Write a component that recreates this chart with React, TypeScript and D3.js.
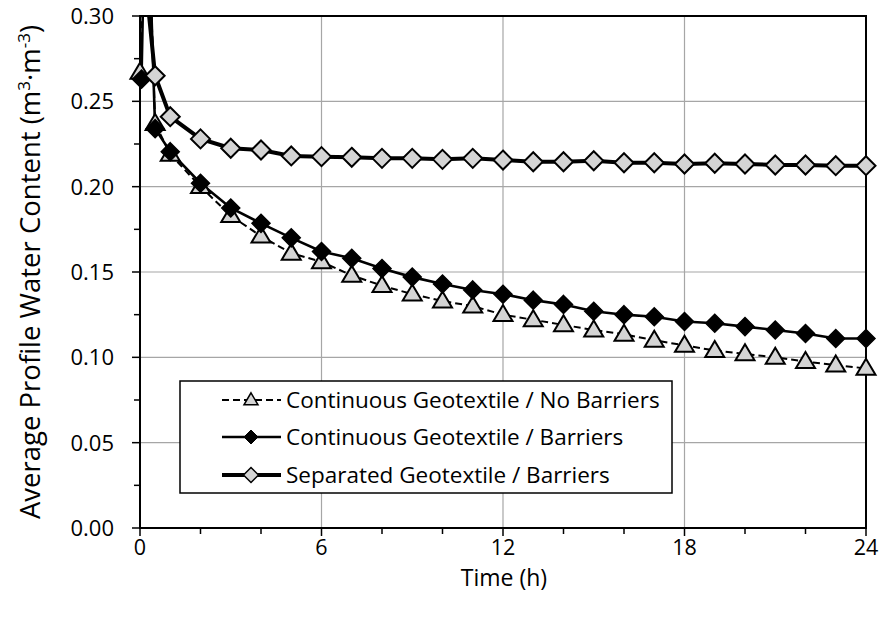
import React from "react";
import * as d3 from "d3";

const W = 880;
const H = 617;

// Series 1: Continuous Geotextile / No Barriers (triangles, dashed)
const timeA = [0, 0.2, 0.5, 1, 2, 3, 4, 5, 6, 7, 8, 9, 10, 11, 12, 13, 14, 15, 16, 17, 18, 19, 20, 21, 22, 23, 24];
const valA = [0.267, 0.4, 0.237, 0.219, 0.2, 0.183, 0.171, 0.161, 0.156, 0.148, 0.142, 0.137, 0.133, 0.13, 0.125, 0.122, 0.119, 0.116, 0.1135, 0.11, 0.107, 0.104, 0.102, 0.1, 0.0975, 0.0955, 0.0935];

// Series 2: Continuous Geotextile / Barriers (black diamonds)
const timeB = [0.05, 0.2, 0.5, 1, 2, 3, 4, 5, 6, 7, 8, 9, 10, 11, 12, 13, 14, 15, 16, 17, 18, 19, 20, 21, 22, 23, 24];
const valB = [0.263, 0.4, 0.234, 0.2205, 0.202, 0.1875, 0.1785, 0.17, 0.162, 0.158, 0.152, 0.147, 0.143, 0.1395, 0.137, 0.1335, 0.131, 0.127, 0.125, 0.1238, 0.121, 0.12, 0.118, 0.116, 0.114, 0.111, 0.111];

// Series 3: Separated Geotextile / Barriers (gray diamonds)
const timeC = [0, 0.5, 1, 2, 3, 4, 5, 6, 7, 8, 9, 10, 11, 12, 13, 14, 15, 16, 17, 18, 19, 20, 21, 22, 23, 24];
const valC = [0.353, 0.265, 0.241, 0.228, 0.2225, 0.2215, 0.218, 0.2176, 0.2172, 0.2166, 0.2166, 0.216, 0.2166, 0.2156, 0.2146, 0.2146, 0.2152, 0.214, 0.214, 0.2133, 0.2137, 0.2133, 0.2127, 0.2127, 0.2123, 0.2123];

const seriesNames = [
  "Continuous Geotextile / No Barriers",
  "Continuous Geotextile / Barriers",
  "Separated Geotextile / Barriers",
];

const xMajorTicks = [0, 6, 12, 18, 24];
const xMinorTicks = [0, 2, 4, 6, 8, 10, 12, 14, 16, 18, 20, 22, 24];
const yMajorTicks = [0, 0.05, 0.1, 0.15, 0.2, 0.25, 0.3];
const yMinorTicks = [0, 0.025, 0.05, 0.075, 0.1, 0.125, 0.15, 0.175, 0.2, 0.225, 0.25, 0.275, 0.3];

const FONT = "'Open Sans', sans-serif";

const left = 140;
const right = 866;
const top = 16;
const bottom = 528;

const x = d3.scaleLinear().domain([0, 24]).range([left, right]);
const y = d3.scaleLinear().domain([0, 0.3]).range([bottom, top]);

type Pt = { t: number; v: number };
const zip = (ts: number[], vs: number[]): Pt[] => ts.map((t, i) => ({ t, v: vs[i] }));

const line = d3
  .line<Pt>()
  .x((d) => x(d.t))
  .y((d) => y(d.v));

const diamond = (cx: number, cy: number, r: number) =>
  `M${cx},${cy - r}L${cx + r},${cy}L${cx},${cy + r}L${cx - r},${cy}Z`;
const triangle = (cx: number, cy: number, w: number, h: number) =>
  `M${cx},${cy - h * 0.6}L${cx + w / 2},${cy + h * 0.4}L${cx - w / 2},${cy + h * 0.4}Z`;

const GRAY = "#d4d4d4";

export default function App() {
  const a = zip(timeA, valA);
  const b = zip(timeB, valB);
  const c = zip(timeC, valC);
  const vis = (p: Pt) => p.v <= 0.3;

  const legX = 180;
  const legY = 381;
  const legW = 492;
  const legH = 112;
  const rows = [400, 437, 475];

  return (
    <svg width={W} height={H} style={{ position: "absolute", left: 0, top: 0, background: "#fff" }}>
      <defs>
        <clipPath id="plotClip">
          <rect x={left} y={top} width={right - left} height={bottom - top} />
        </clipPath>
      </defs>
      <rect x={0} y={0} width={W} height={H} fill="#fff" />

      {/* gridlines */}
      {yMajorTicks.map((v) => (
        <line key={"gy" + v} x1={left} x2={right} y1={y(v)} y2={y(v)} stroke="#a6a6a6" strokeWidth={1.2} />
      ))}
      {xMajorTicks.map((t) => (
        <line key={"gx" + t} x1={x(t)} x2={x(t)} y1={top} y2={bottom} stroke="#a6a6a6" strokeWidth={1.2} />
      ))}

      {/* ticks */}
      {yMinorTicks.map((v) => (
        <line key={"ty" + v} x1={left - (yMajorTicks.some((m) => Math.abs(m - v) < 1e-9) ? 8 : 6)} x2={left} y1={y(v)} y2={y(v)} stroke="#000" strokeWidth={1.5} />
      ))}
      {xMinorTicks.map((t) => (
        <line key={"tx" + t} x1={x(t)} x2={x(t)} y1={bottom} y2={bottom + (xMajorTicks.includes(t) ? 8 : 6)} stroke="#000" strokeWidth={1.5} />
      ))}

      {/* frame */}
      <rect x={left} y={top} width={right - left} height={bottom - top} fill="none" stroke="#000" strokeWidth={2} />

      {/* lines */}
      <g clipPath="url(#plotClip)">
        <path d={line(a) || ""} fill="none" stroke="#000" strokeWidth={2} strokeDasharray="7,4" />
        <path d={line(b) || ""} fill="none" stroke="#000" strokeWidth={2.6} />
        <path d={line(c) || ""} fill="none" stroke="#000" strokeWidth={4} />
      </g>

      {/* markers */}
      {a.filter(vis).map((p, i) => (
        <path key={"ma" + i} d={triangle(x(p.t), y(p.v), 19, 16)} fill={GRAY} stroke="#000" strokeWidth={2} strokeLinejoin="miter" />
      ))}
      {b.filter(vis).map((p, i) => (
        <path key={"mb" + i} d={diamond(x(p.t), y(p.v), 9)} fill="#000" stroke="#000" strokeWidth={1.5} />
      ))}
      {c.filter(vis).map((p, i) => (
        <path key={"mc" + i} d={diamond(x(p.t), y(p.v), 9.5)} fill={GRAY} stroke="#000" strokeWidth={2} />
      ))}

      {/* y tick labels */}
      {yMajorTicks.map((v) => (
        <text key={"ly" + v} x={left - 26} y={y(v)} dy="0.36em" textAnchor="end" fontFamily={FONT} fontSize={22} fill="#000">
          {v.toFixed(2)}
        </text>
      ))}
      {xMajorTicks.map((t) => (
        <text key={"lx" + t} x={x(t)} y={555} textAnchor="middle" fontFamily={FONT} fontSize={21.5} fill="#000">
          {t}
        </text>
      ))}

      {/* axis titles */}
      <text x={504} y={586} textAnchor="middle" fontFamily={FONT} fontSize={23} fill="#000">
        Time (h)
      </text>
      <text transform={`translate(40,${(top + bottom) / 2}) rotate(-90)`} textAnchor="middle" fontFamily={FONT} fontSize={27.5} fill="#000">
        Average Profile Water Content (m
        <tspan dy={-10} fontSize={17}>3</tspan>
        <tspan dy={10}>·m</tspan>
        <tspan dy={-10} fontSize={17}>-3</tspan>
        <tspan dy={10}>)</tspan>
      </text>

      {/* legend */}
      <rect x={legX} y={legY} width={legW} height={legH} fill="#fff" stroke="#000" strokeWidth={1.5} />
      <line x1={222} x2={281} y1={rows[0]} y2={rows[0]} stroke="#000" strokeWidth={2} strokeDasharray="7,4" />
      <path d={triangle(251, rows[0], 14, 12)} fill={GRAY} stroke="#000" strokeWidth={1.5} />
      <line x1={222} x2={281} y1={rows[1]} y2={rows[1]} stroke="#000" strokeWidth={2.6} />
      <path d={diamond(251, rows[1], 7)} fill="#000" stroke="#000" strokeWidth={1} />
      <line x1={222} x2={281} y1={rows[2]} y2={rows[2]} stroke="#000" strokeWidth={4} />
      <path d={diamond(251, rows[2], 7.5)} fill={GRAY} stroke="#000" strokeWidth={1.5} />
      {seriesNames.map((s, i) => (
        <text key={s} x={286} y={rows[i]} dy="0.36em" fontFamily={FONT} fontSize={22.5} fill="#000">
          {s}
        </text>
      ))}
    </svg>
  );
}
